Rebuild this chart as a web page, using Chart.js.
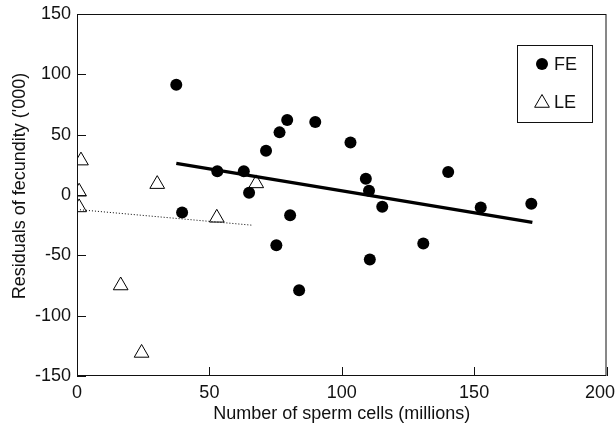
<!DOCTYPE html>
<html>
<head>
<meta charset="utf-8">
<script src="https://cdn.jsdelivr.net/npm/chart.js@4/dist/chart.umd.min.js"></script>
<style>
  html, body { margin: 0; padding: 0; background: #fff; }
  canvas { display: block; }
</style>
</head>
<body>
<canvas id="scatterChart" width="616" height="427"></canvas>
<script>
// FE (filled circles) - sperm cells (millions) vs residuals of fecundity ('000)
const feX = [37.5, 39.7, 53.0, 63.0, 65.0, 71.4, 75.3, 76.5, 79.4, 80.5, 83.9, 90.0, 103.3, 109.1, 110.3, 110.6, 115.3, 130.8, 140.2, 152.5, 171.6];
const feY = [91.4, -14.5, 19.6, 19.6, 1.8, 36.7, -41.6, 51.9, 62.1, -16.7, -78.9, 60.5, 43.6, 13.4, 3.5, -53.4, -9.8, -40.1, 19.0, -10.3, -7.3];

// LE (open triangles)
const leX = [1.5, 0.8, 0.8, 16.5, 24.4, 30.3, 52.8, 67.7];
const leY = [28.5, 2.7, -10.3, -75.0, -130.9, 9.0, -18.9, 9.6];

// regression lines
const feFitX = [37.5, 172];
const feFitY = [26.2, -22.7];
const leFitX = [0, 66];
const leFitY = [-12, -25];

const xTicks = [0, 50, 100, 150, 200];
const yTicks = [-150, -100, -50, 0, 50, 100, 150];

const xTitle = "Number of sperm cells (millions)";
const yTitle = "Residuals of fecundity ('000)";
const seriesNames = ["FE", "LE"];

const FONT = "'Liberation Sans', Arial, sans-serif";
const toPoints = (xs, ys) => xs.map((x, i) => ({ x: x, y: ys[i] }));

// frame, inward ticks, x tick labels, axis titles and the boxed legend
const decorPlugin = {
  id: "decor",
  afterDraw(chart) {
    const ctx = chart.ctx;
    const a = chart.chartArea;
    const xs = chart.scales.x;
    const ys = chart.scales.y;
    ctx.save();
    ctx.strokeStyle = "#111";
    ctx.lineWidth = 1;
    ctx.strokeRect(a.left + 0.5, a.top + 0.5, a.right - a.left - 1, a.bottom - a.top - 1);

    ctx.beginPath();
    xTicks.forEach((v) => {
      const px = Math.round(xs.getPixelForValue(v)) + 0.5;
      ctx.moveTo(px, a.bottom);
      ctx.lineTo(px, a.bottom - 9);
    });
    yTicks.forEach((v) => {
      const py = Math.round(ys.getPixelForValue(v)) + 0.5;
      ctx.moveTo(a.left, py);
      ctx.lineTo(a.left + 9, py);
    });
    ctx.stroke();

    ctx.fillStyle = "#111";
    ctx.font = "18px " + FONT;
    ctx.textBaseline = "middle";

    // x tick labels, the last one kept inside the canvas
    ctx.textAlign = "left";
    xTicks.forEach((v) => {
      const label = String(v);
      const w = ctx.measureText(label).width;
      let left = xs.getPixelForValue(v) - w / 2;
      if (left + w > chart.width - 1) left = chart.width - 1 - w;
      ctx.fillText(label, left, 393);
    });

    ctx.textAlign = "center";
    ctx.fillText(xTitle, (a.left + a.right) / 2, 414);
    ctx.save();
    ctx.translate(20, 186);
    ctx.rotate(-Math.PI / 2);
    ctx.fillText(yTitle, 0, 0);
    ctx.restore();

    // legend box
    const lx = 517.5, ly = 45.5, lw = 75, lh = 77;
    ctx.strokeRect(lx, ly, lw, lh);
    ctx.fillStyle = "#000";
    ctx.beginPath();
    ctx.arc(542, 64, 6, 0, Math.PI * 2);
    ctx.fill();
    ctx.fillStyle = "rgba(255,255,255,0)";
    ctx.strokeStyle = "#000";
    ctx.lineWidth = 1;
    Chart.helpers.drawPoint(ctx, { pointStyle: "triangle", radius: 8.5, borderWidth: 1 }, 542, 103);
    ctx.fillStyle = "#111";
    ctx.textAlign = "left";
    ctx.fillText(seriesNames[0], 554, 65);
    ctx.fillText(seriesNames[1], 554, 103);
    ctx.restore();
  },
};

new Chart(document.getElementById("scatterChart"), {
  type: "scatter",
  data: {
    datasets: [
      {
        label: "FE fit",
        type: "line",
        data: toPoints(feFitX, feFitY),
        borderColor: "#000",
        borderWidth: 3.5,
        pointRadius: 0,
        fill: false,
      },
      {
        label: "LE fit",
        type: "line",
        data: toPoints(leFitX, leFitY),
        borderColor: "#000",
        borderWidth: 1,
        borderDash: [1, 2],
        pointRadius: 0,
        fill: false,
      },
      {
        label: seriesNames[0],
        data: toPoints(feX, feY),
        pointStyle: "circle",
        pointRadius: 6,
        backgroundColor: "#000",
        borderColor: "#000",
        borderWidth: 0,
      },
      {
        label: seriesNames[1],
        data: toPoints(leX, leY),
        pointStyle: "triangle",
        pointRadius: 8.5,
        backgroundColor: "rgba(255,255,255,0)",
        borderColor: "#000",
        borderWidth: 1,
      },
    ],
  },
  options: {
    responsive: false,
    animation: false,
    layout: { padding: { top: 14, right: 9, left: 0, bottom: 0 } },
    plugins: {
      legend: { display: false },
      tooltip: { enabled: false },
    },
    scales: {
      x: {
        type: "linear",
        min: 0,
        max: 200,
        afterFit: (scale) => {
          scale.height = 51;
          scale.paddingLeft = 0;
          scale.paddingRight = 0;
        },
        afterBuildTicks: (scale) => { scale.ticks = xTicks.map((v) => ({ value: v })); },
        grid: { display: false, drawTicks: false },
        border: { display: false },
        ticks: { display: false },
      },
      y: {
        type: "linear",
        min: -150,
        max: 150,
        afterFit: (scale) => {
          scale.width = 77;
          scale.paddingTop = 0;
          scale.paddingBottom = 0;
        },
        afterBuildTicks: (scale) => { scale.ticks = yTicks.map((v) => ({ value: v })); },
        grid: { display: false, drawTicks: false },
        border: { display: false },
        ticks: { color: "#111", padding: 6, font: { family: FONT, size: 18 } },
      },
    },
  },
  plugins: [decorPlugin],
});
</script>
</body>
</html>
